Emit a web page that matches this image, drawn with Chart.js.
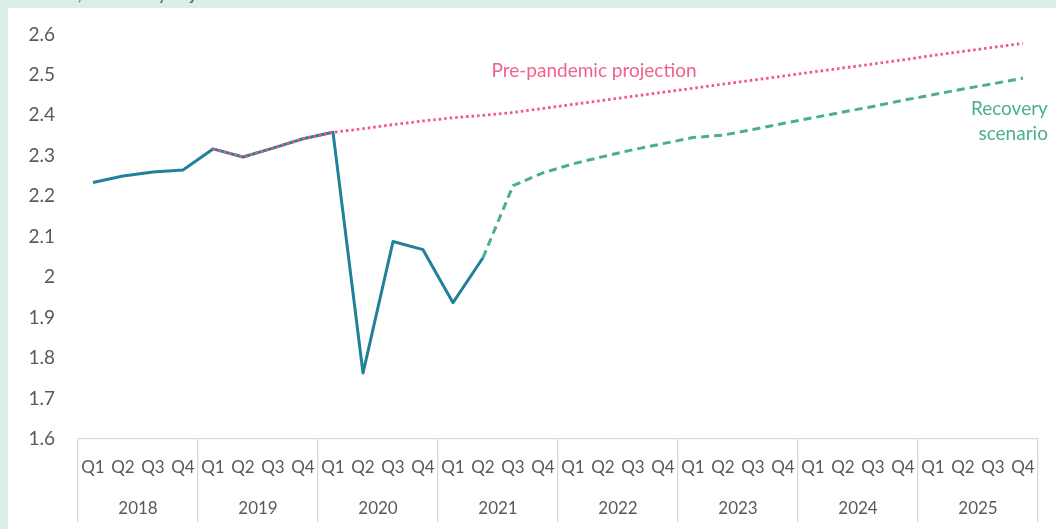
<!DOCTYPE html>
<html>
<head>
<meta charset="utf-8">
<script src="https://cdn.jsdelivr.net/npm/chart.js@4.4.1/dist/chart.umd.min.js"></script>
<style>
  html, body { margin: 0; padding: 0; width: 1056px; height: 529px; overflow: hidden; background: #d9efe8; font-family: Lato, sans-serif; }
  #title { position: absolute; left: 12px; top: -18px; font-size: 18px; color: #595959; white-space: nowrap; }
  #panel { position: absolute; left: 8px; top: 8px; width: 1048px; height: 521px; background: #ffffff; }
</style>
</head>
<body>
<div id="title">£ trillion, seasonally adjusted</div>
<div id="panel"><canvas id="gdpChart" width="1048" height="521"></canvas></div>
<script>
const years = ["2018", "2019", "2020", "2021", "2022", "2023", "2024", "2025"];
const quarters = years.flatMap(() => ["Q1", "Q2", "Q3", "Q4"]);

// outturn, 2018 Q1 - 2021 Q2
const actual = [2.234, 2.250, 2.260, 2.265, 2.317, 2.297, 2.319, 2.342, 2.358, 1.763, 2.088, 2.068, 1.937, 2.048,
  null, null, null, null, null, null, null, null, null, null, null, null, null, null, null, null, null, null];

// pre-pandemic projection, from 2019 Q1
const projection = [null, null, null, null, 2.317, 2.297, 2.319, 2.342, 2.358, 2.367, 2.377, 2.386, 2.394, 2.400,
  2.407, 2.417, 2.427, 2.437, 2.447, 2.457, 2.467, 2.477, 2.487, 2.497, 2.507, 2.517, 2.527, 2.537, 2.548, 2.558, 2.568, 2.578];

// recovery scenario, from 2021 Q2
const recovery = [null, null, null, null, null, null, null, null, null, null, null, null, null, 2.048,
  2.226, 2.258, 2.280, 2.298, 2.315, 2.330, 2.345, 2.351, 2.365, 2.380, 2.394, 2.408, 2.422, 2.437, 2.451, 2.465, 2.478, 2.492];

const yMin = 1.6;
const yMax = 2.6;

const blue = "#23809a";
const green = "#4aae93";
const pink = "#f2557f";
const grey = "#595959";
const lineGrey = "#d9d9d9";

// text labels placed in data units (category index, value)
const notes = [
  { text: "Pre-pandemic projection", at: 16.7, value: 2.51, color: "#f0628a", align: "center" },
  { text: "Recovery", at: 31.83, value: 2.416, color: green, align: "right" },
  { text: "scenario", at: 31.83, value: 2.355, color: green, align: "right" },
];

const notesPlugin = {
  id: "notes",
  afterDatasetsDraw(chart) {
    const { ctx, scales } = chart;
    ctx.save();
    ctx.font = "19px Lato, sans-serif";
    ctx.textBaseline = "middle";
    notes.forEach((n) => {
      ctx.fillStyle = n.color;
      ctx.textAlign = n.align;
      ctx.fillText(n.text, scales.x.getPixelForValue(n.at), scales.y.getPixelForValue(n.value));
    });
    ctx.restore();
  },
};

const config = {
  type: "line",
  data: {
    labels: quarters,
    datasets: [
      {
        label: "Pre-pandemic projection",
        data: projection,
        borderColor: pink,
        borderWidth: 2.8,
        borderDash: [2.5, 3],
        pointRadius: 0,
        tension: 0,
      },
      {
        label: "Actual",
        data: actual,
        borderColor: blue,
        borderWidth: 3,
        borderJoinStyle: "round",
        pointRadius: 0,
        tension: 0,
      },
      {
        label: "Recovery scenario",
        data: recovery,
        borderColor: green,
        borderWidth: 3,
        borderDash: [8, 5],
        borderJoinStyle: "round",
        pointRadius: 0,
        tension: 0,
      },
    ],
  },
  options: {
    responsive: false,
    animation: false,
    spanGaps: false,
    layout: { padding: { left: 0, right: 18, top: 25, bottom: 0 } },
    plugins: { legend: { display: false }, tooltip: { enabled: false } },
    scales: {
      y: {
        min: yMin,
        max: yMax,
        grid: { display: false },
        border: { display: false },
        ticks: {
          stepSize: 0.1,
          padding: 15,
          color: grey,
          font: { family: "Lato", size: 19 },
          callback: (v) => String(Math.round(v * 10) / 10),
        },
        afterFit: (s) => { s.width = 70; },
      },
      x: {
        type: "category",
        position: "bottom",
        offset: true,
        grid: {
          offset: true,
          drawOnChartArea: false,
          drawTicks: true,
          tickLength: 48,
          lineWidth: 1.3,
          color: (c) => (c.type !== "tick" || c.index % 4 === 0 ? lineGrey : "rgba(0,0,0,0)"),
        },
        border: { display: true, color: lineGrey, width: 1.3 },
        ticks: {
          padding: -30,
          autoSkip: false,
          maxRotation: 0,
          color: grey,
          font: { family: "Lato", size: 17 },
        },
        afterFit: (s) => { s.height = 48; },
      },
      x2: {
        type: "category",
        position: "bottom",
        labels: years,
        offset: true,
        grid: {
          offset: true,
          drawOnChartArea: false,
          drawTicks: true,
          tickLength: 35,
          lineWidth: 1.3,
          color: lineGrey,
        },
        border: { display: false },
        ticks: {
          padding: -24,
          autoSkip: false,
          maxRotation: 0,
          color: grey,
          font: { family: "Lato", size: 17 },
        },
        afterFit: (s) => { s.height = 42; },
      },
    },
  },
  plugins: [notesPlugin],
};

new Chart(document.getElementById("gdpChart"), config);
</script>
</body>
</html>
